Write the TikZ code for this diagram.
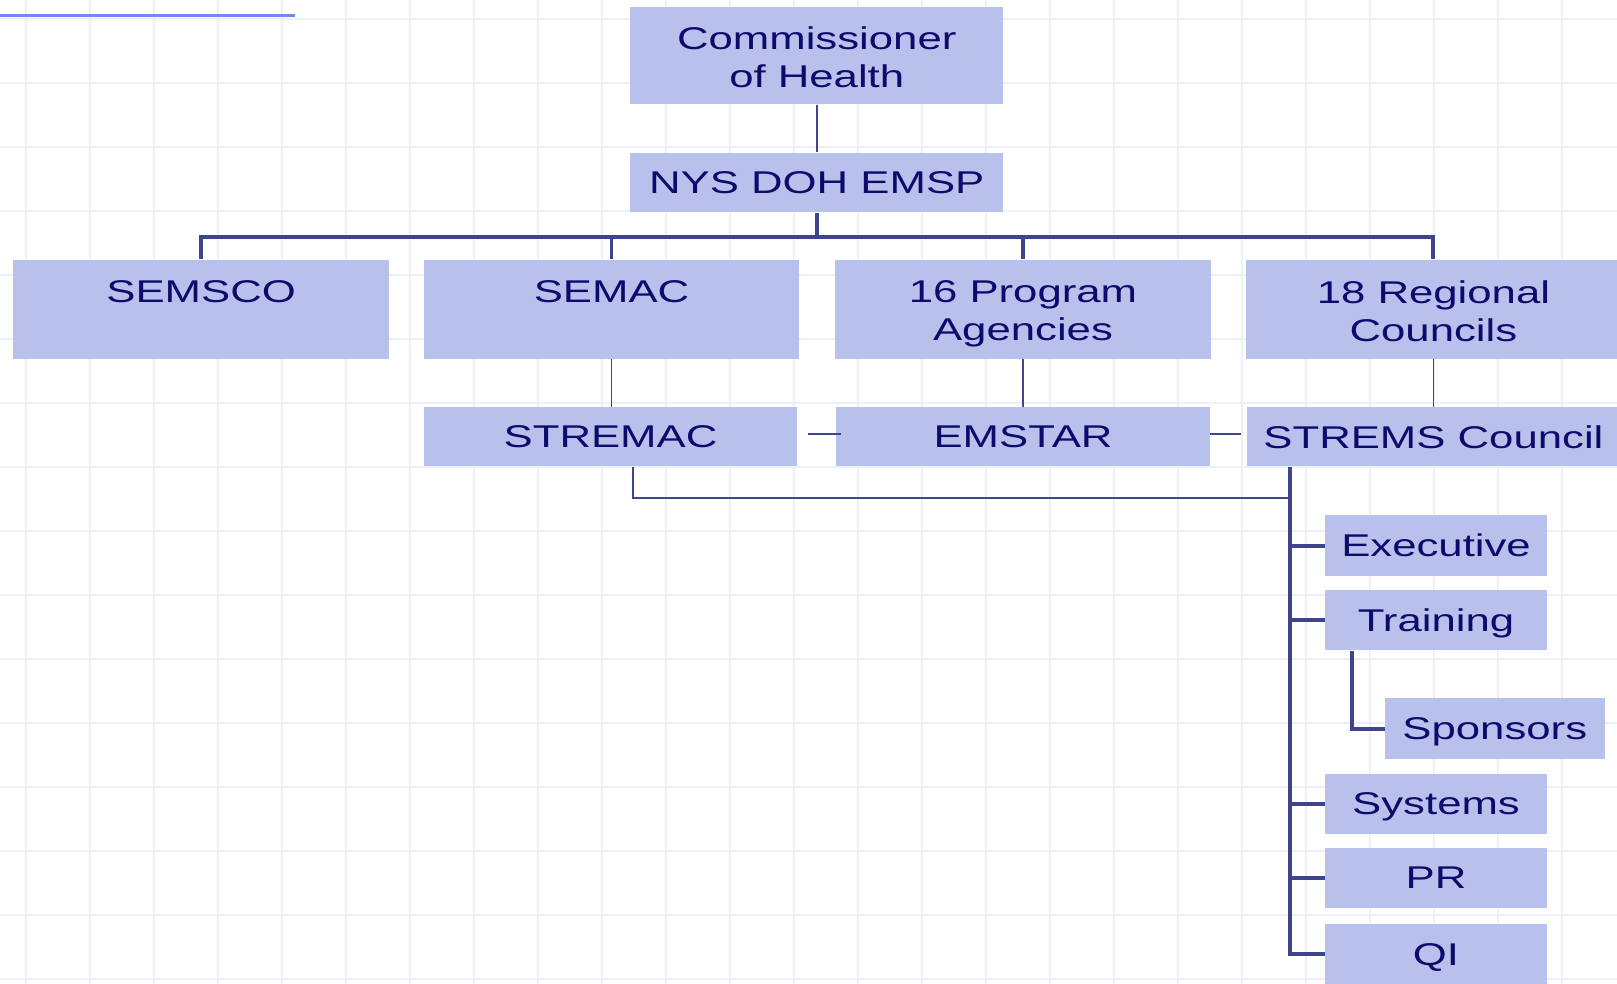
\documentclass[tikz,border=0pt]{standalone}
\usepackage{fontspec}
\setmainfont{Liberation Sans}[FakeStretch=1.39]
\usetikzlibrary{calc}
\definecolor{boxfill}{RGB}{183,193,236}
\definecolor{boxtext}{RGB}{12,10,108}
\definecolor{linkcol}{RGB}{64,68,140}
\definecolor{gridcol}{RGB}{236,239,252}
\definecolor{rulecol}{RGB}{112,136,240}
\begin{document}
\begin{tikzpicture}[x=0.5pt, y=-0.5pt, font=\fontsize{15.25}{18.3}\selectfont, line join=miter,
	orgbox/.style={fill=boxfill, text=boxtext, inner sep=0pt, text depth=0pt},
	widebox/.style={orgbox, minimum width=182pt, minimum height=48pt},
	headbox/.style={orgbox, minimum width=181pt, minimum height=29pt},
	subbox/.style={orgbox, minimum width=107.5pt, minimum height=29.25pt},
	twoline/.style={text=boxtext, align=center, yshift=-2.3pt},
	thickline/.style={draw=linkcol, line width=1.9pt},
	thinline/.style={draw=linkcol, line width=0.85pt},
	gridline/.style={draw=gridcol, line width=0.9pt}]
	\useasboundingbox (0,0) rectangle (1568,954);
	\foreach \i in {0,...,24}
		\draw[gridline] ({25.3+62.07*\i},0) -- ({25.3+62.07*\i},954);
	\foreach \j in {0,...,15}
		\draw[gridline] (0,{18.5+62.07*\j}) -- (1568,{18.5+62.07*\j});
	\draw[rulecol, line width=1pt] (0,15) -- (286,15);

	\node[headbox, minimum height=47pt, label={[twoline]center:Commissioner\\of Health\vphantom{g}}] (com) at (792,54) {};
	\node[headbox] (nys) at (792,177) {NYS DOH EMSP};
	\node[widebox, label={[twoline]center:SEMSCO\\\vphantom{g}}] (semsco) at (195,300) {};
	\node[widebox, label={[twoline]center:SEMAC\\\vphantom{g}}] (semac) at (593,300) {};
	\node[widebox, label={[twoline]center:16 Program\\Agencies}] (prog) at (992,300) {};
	\node[widebox, label={[twoline]center:18 Regional\\Councils\vphantom{g}}] (reg) at (1390,300) {};
	\node[headbox, minimum height=28.5pt] (stremac) at (592,423.5) {STREMAC};
	\node[headbox, minimum height=28.5pt] (emstar) at (992,423.5) {EMSTAR};
	\node[headbox, minimum height=28.5pt] (strems) at (1390,423.5) {STREMS Council};
	\node[subbox] (exec) at (1392.5,529) {Executive};
	\node[subbox] (train) at (1392.5,601.5) {Training};
	\node[subbox, minimum width=106.5pt] (spons) at (1449.5,706.5) {Sponsors};
	\node[subbox] (sys) at (1392.5,779.5) {Systems};
	\node[subbox] (pr) at (1392.5,851.5) {PR};
	\node[subbox] (qi) at (1392.5,925.5) {QI};

	\coordinate (bus) at (792,230);
	\draw[thinline] (com) -- (nys);
	\draw[thickline] (nys.south) -- (bus);
	\draw[thickline] (semsco.north) -- (semsco.north |- bus) -- (reg.north |- bus) -- (reg.north);
	\foreach \n in {semac,prog}
		\draw[thickline] (\n.north) -- (\n.north |- bus);
	\foreach \a/\b in {semac/stremac,prog/emstar,reg/strems}
		\draw[thinline] (\a.south) -- (\a.south |- \b.north);
	\draw[thinline] ($(stremac.east)+(10,-3)$) -- ($(emstar.west)+(5,-3)$);
	\draw[thinline] ($(emstar.east)+(0,-3)$) -- ($(strems.west)+(-5,-3)$);
	\coordinate (spine) at ($(strems.south west)+(42.6,0)$);
	\draw[thinline] ($(stremac.south)+(21.5,0)$) |- ($(spine)+(0,30.7)$);
	\draw[thickline] (spine) -- (spine |- qi.west) -- (qi.west);
	\foreach \n in {exec,train,sys,pr}
		\draw[thickline] (spine |- \n.west) -- (\n.west);
	\draw[thickline] ($(train.south west)+(26.7,0)$) |- (spons.west);
\end{tikzpicture}
\end{document}
